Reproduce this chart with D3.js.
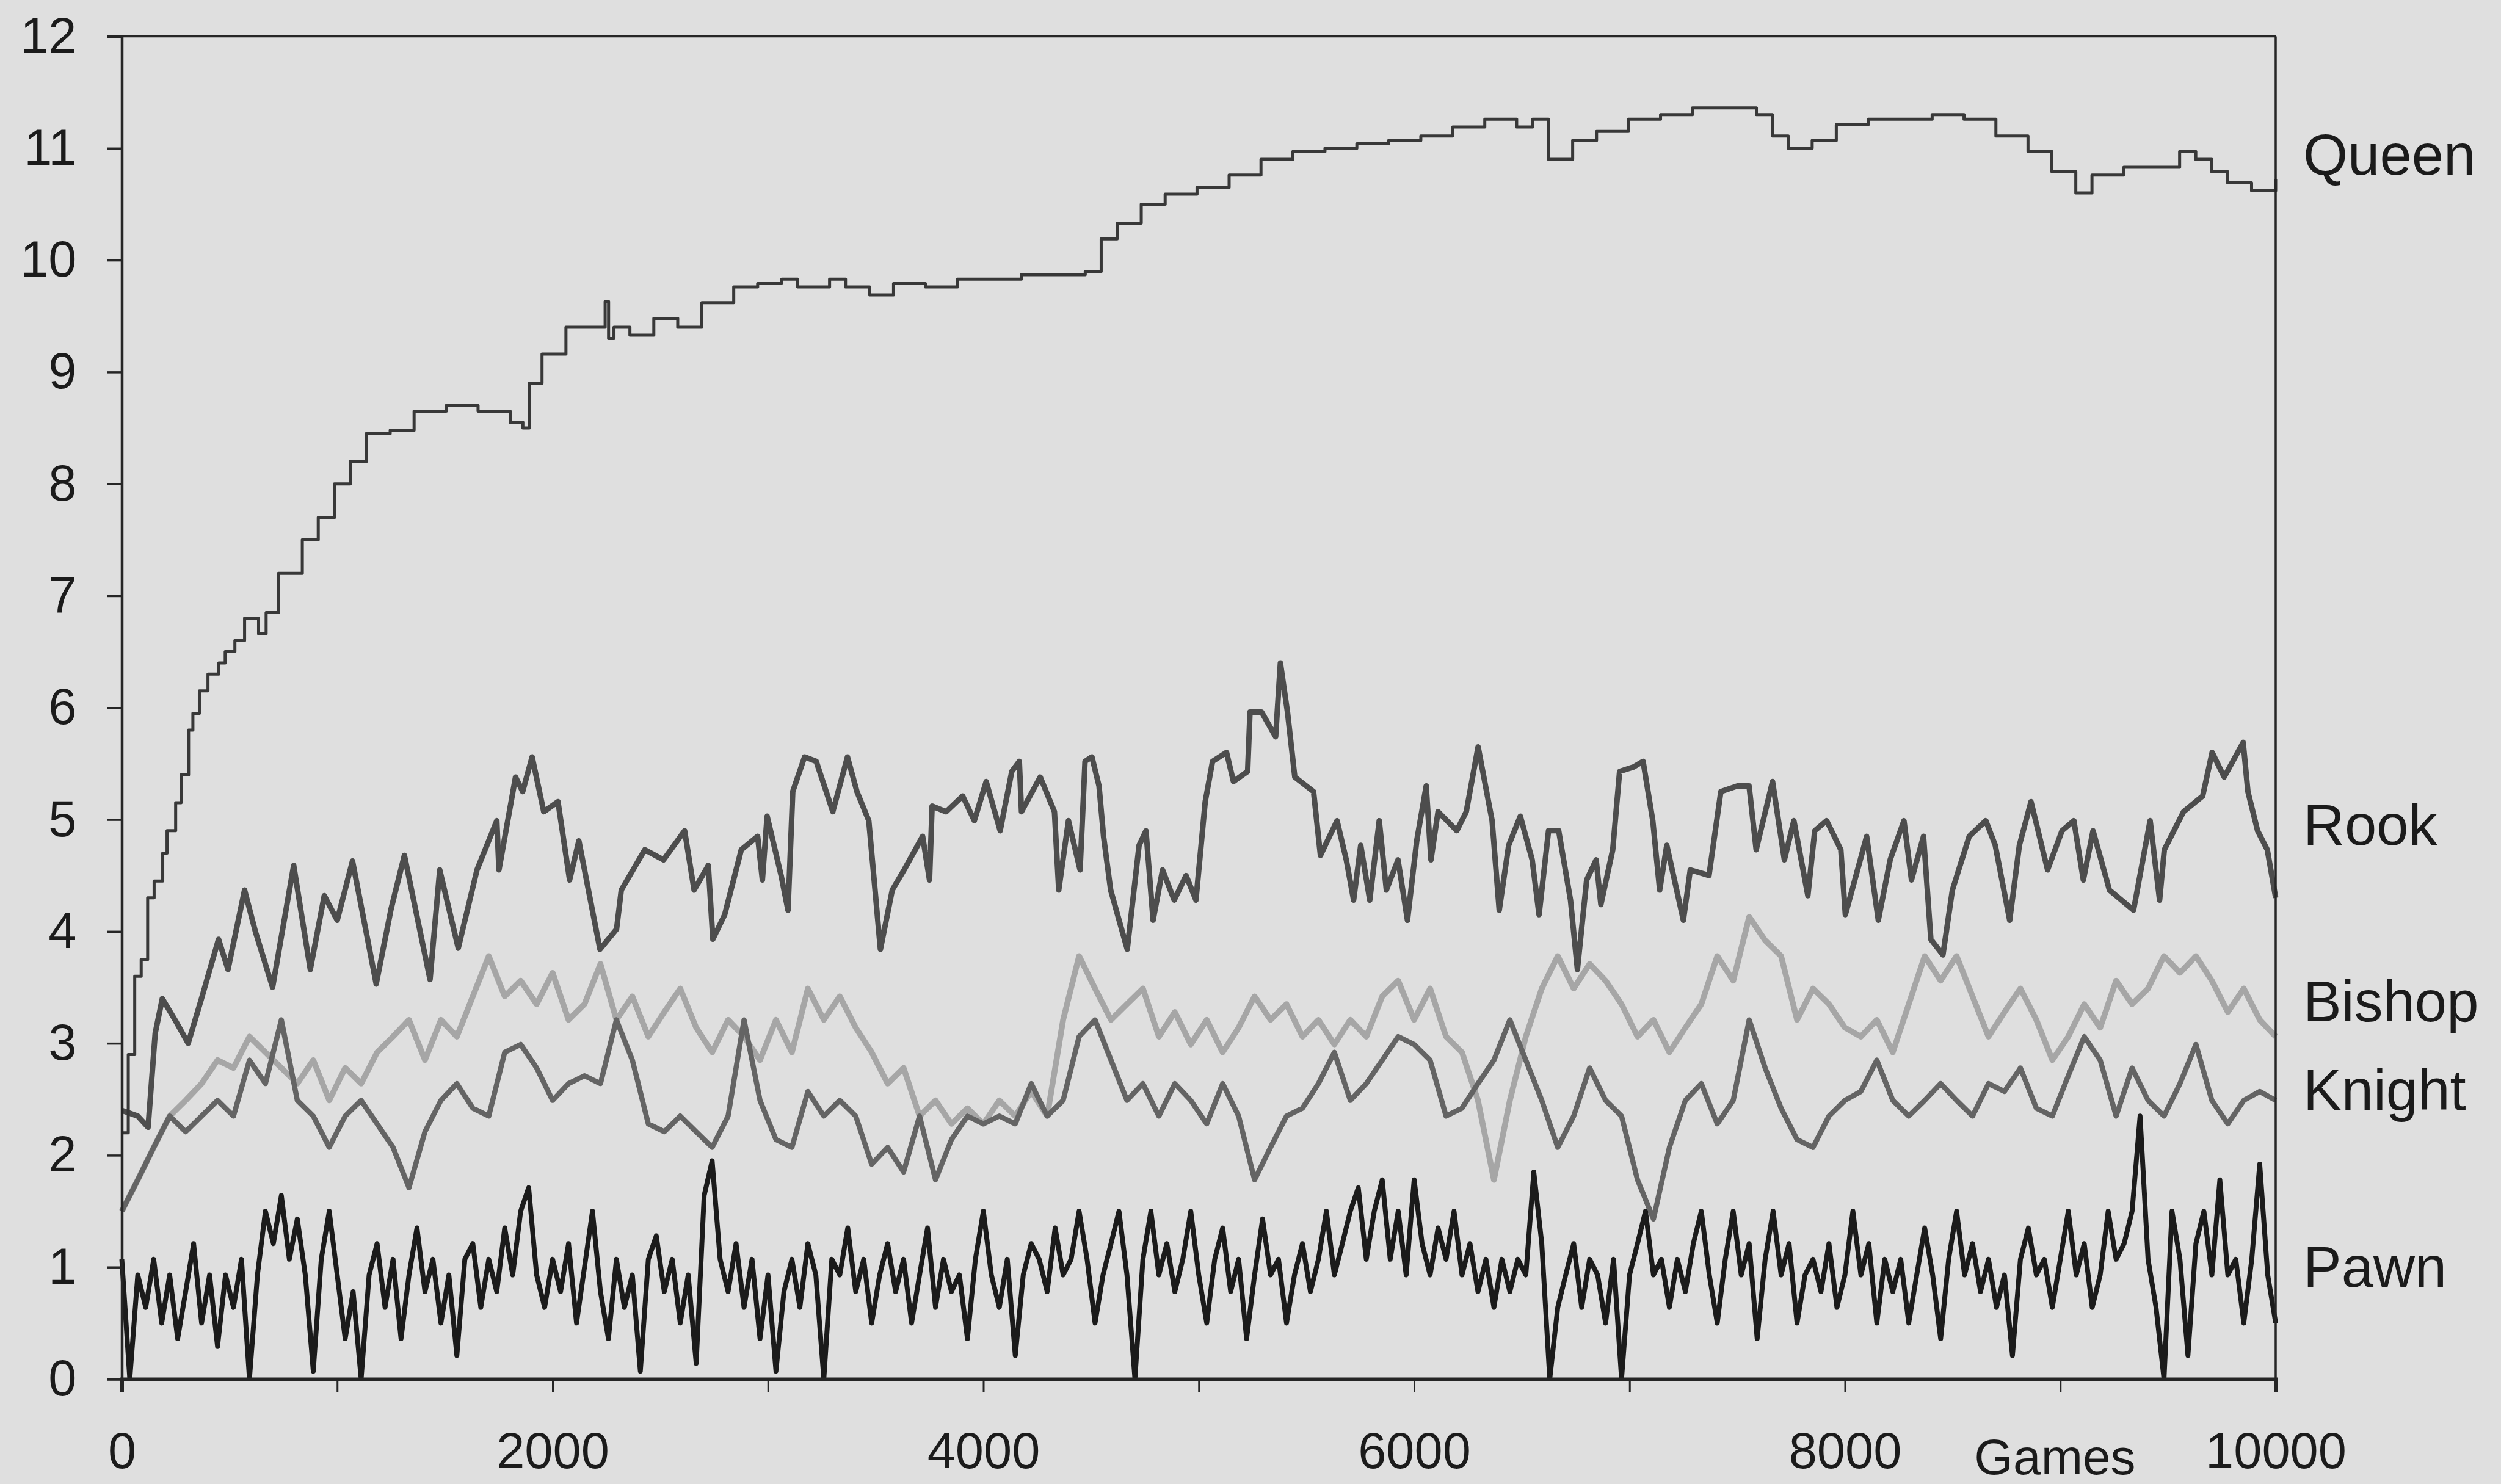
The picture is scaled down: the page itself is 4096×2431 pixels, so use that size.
<!DOCTYPE html>
<html>
<head>
<meta charset="utf-8">
<script src="https://cdn.jsdelivr.net/npm/d3@7"></script>
<style>
  html, body { margin: 0; padding: 0; background: #dfdfdf; overflow: hidden; }
  svg { display: block; }
  text { font-family: "Liberation Sans", Arial, Helvetica, sans-serif; fill: #1b1b1b; }
</style>
</head>
<body>
<svg id="chart" width="4096" height="2431"></svg>
<script>
// ---- data -------------------------------------------------------------
const gamesMax = 10000;
const yTickValues = d3.range(0, 13);
const xTickValues = d3.range(0, 10001, 1000);
const xLabelValues = [0, 2000, 4000, 6000, 8000, 10000];
const xAxisTitle = "Games";
const seriesNames = ["Queen", "Rook", "Bishop", "Knight", "Pawn"];

// Queen: [games, value]
const queenData = [[0,2.2],[30,2.9],[60,3.6],[90,3.75],[120,4.3],[150,4.45],[190,4.7],[210,4.9],[250,5.15],[275,5.4],[310,5.8],[330,5.95],[360,6.15],[400,6.3],[450,6.4],[480,6.5],[525,6.6],[570,6.8],[635,6.66],[670,6.85],[727,7.2],[838,7.5],[912,7.7],[987,8.0],[1061,8.2],[1135,8.45],[1246,8.48],[1357,8.65],[1506,8.7],[1654,8.65],[1803,8.55],[1862,8.5],[1892,8.9],[1951,9.16],[2062,9.4],[2173,9.4],[2244,9.63],[2260,9.3],[2285,9.4],[2359,9.33],[2470,9.48],[2581,9.4],[2693,9.62],[2841,9.76],[2952,9.79],[3064,9.83],[3138,9.76],[3286,9.83],[3360,9.76],[3472,9.69],[3583,9.79],[3731,9.76],[3880,9.83],[4028,9.83],[4176,9.87],[4325,9.87],[4473,9.9],[4547,10.19],[4621,10.33],[4733,10.5],[4844,10.59],[4992,10.65],[5141,10.76],[5289,10.9],[5437,10.97],[5586,11.0],[5734,11.04],[5882,11.07],[6031,11.11],[6179,11.19],[6328,11.26],[6476,11.19],[6550,11.26],[6624,10.9],[6736,11.07],[6847,11.15],[6995,11.26],[7144,11.3],[7292,11.36],[7440,11.36],[7589,11.3],[7663,11.11],[7737,11.0],[7848,11.07],[7960,11.21],[8108,11.26],[8256,11.26],[8405,11.3],[8553,11.26],[8701,11.11],[8850,10.97],[8961,10.79],[9072,10.6],[9147,10.76],[9295,10.83],[9443,10.83],[9554,10.97],[9629,10.9],[9703,10.79],[9777,10.69],[9888,10.62],[10000,10.72]];

// Rook: [games, value]
const rookData = [[0,2.4],[74,2.35],[122,2.25],[155,3.09],[188,3.4],[250,3.2],[308,3.0],[370,3.4],[449,3.93],[493,3.66],[570,4.37],[620,4.0],[700,3.5],[798,4.59],[875,3.66],[940,4.32],[1000,4.1],[1071,4.63],[1181,3.53],[1250,4.2],[1312,4.68],[1431,3.57],[1476,4.55],[1562,3.85],[1649,4.55],[1741,4.99],[1751,4.55],[1828,5.38],[1861,5.25],[1905,5.56],[1959,5.07],[2025,5.16],[2079,4.46],[2122,4.81],[2220,3.84],[2297,4.02],[2319,4.37],[2428,4.73],[2515,4.64],[2613,4.9],[2657,4.37],[2723,4.59],[2744,3.93],[2799,4.15],[2876,4.73],[2952,4.85],[2974,4.46],[2996,5.03],[3061,4.5],[3093,4.19],[3115,5.25],[3170,5.56],[3224,5.52],[3301,5.07],[3369,5.56],[3413,5.25],[3468,4.99],[3522,3.84],[3577,4.37],[3632,4.55],[3718,4.85],[3750,4.46],[3762,5.12],[3827,5.07],[3904,5.21],[3958,4.99],[4013,5.34],[4078,4.9],[4132,5.43],[4167,5.52],[4177,5.07],[4264,5.38],[4330,5.07],[4350,4.37],[4395,4.99],[4449,4.55],[4472,5.52],[4504,5.56],[4537,5.3],[4558,4.85],[4591,4.37],[4668,3.84],[4723,4.77],[4755,4.9],[4788,4.1],[4832,4.55],[4886,4.28],[4941,4.5],[4987,4.28],[5030,5.16],[5064,5.52],[5129,5.6],[5161,5.34],[5227,5.43],[5238,5.96],[5292,5.96],[5357,5.74],[5379,6.4],[5412,5.96],[5446,5.38],[5533,5.25],[5565,4.68],[5642,4.99],[5685,4.64],[5719,4.28],[5752,4.77],[5794,4.28],[5838,4.99],[5871,4.37],[5925,4.64],[5969,4.1],[6012,4.81],[6056,5.3],[6078,4.64],[6111,5.07],[6198,4.9],[6242,5.07],[6297,5.65],[6362,4.99],[6395,4.19],[6439,4.77],[6493,5.03],[6548,4.64],[6580,4.15],[6624,4.9],[6671,4.9],[6726,4.28],[6758,3.66],[6801,4.46],[6845,4.64],[6867,4.24],[6922,4.73],[6954,5.43],[7019,5.47],[7063,5.52],[7108,4.99],[7140,4.37],[7173,4.77],[7250,4.1],[7282,4.55],[7369,4.5],[7424,5.25],[7501,5.3],[7555,5.3],[7588,4.73],[7664,5.34],[7719,4.64],[7763,4.99],[7828,4.32],[7860,4.9],[7915,4.99],[7981,4.73],[8002,4.15],[8046,4.46],[8101,4.85],[8155,4.1],[8210,4.64],[8274,4.99],[8309,4.46],[8365,4.85],[8399,3.93],[8455,3.79],[8499,4.37],[8577,4.85],[8654,4.99],[8698,4.77],[8765,4.1],[8810,4.77],[8864,5.16],[8941,4.55],[9008,4.9],[9063,4.99],[9107,4.46],[9152,4.9],[9228,4.37],[9340,4.19],[9417,4.99],[9461,4.28],[9483,4.73],[9572,5.07],[9661,5.21],[9705,5.6],[9761,5.38],[9849,5.69],[9871,5.25],[9916,4.9],[9961,4.73],[10000,4.3]];

// Bishop and Knight: evenly spaced samples over 0..10000 games
const bishopValues = [1.5,1.78,2.07,2.35,2.49,2.64,2.85,2.78,3.06,2.92,
2.78,2.64,2.85,2.49,2.78,2.64,2.92,3.06,3.21,2.85,
3.21,3.06,3.42,3.78,3.42,3.56,3.35,3.63,3.21,3.35,
3.71,3.21,3.42,3.06,3.28,3.49,3.14,2.92,3.21,3.06,
2.85,3.21,2.92,3.49,3.21,3.42,3.14,2.92,2.64,2.78,
2.35,2.49,2.28,2.42,2.28,2.49,2.35,2.57,2.35,3.21,
3.78,3.49,3.21,3.35,3.49,3.06,3.28,2.99,3.21,2.92,
3.14,3.42,3.21,3.35,3.06,3.21,2.99,3.21,3.06,3.42,
3.56,3.21,3.49,3.06,2.92,2.49,1.78,2.49,3.06,3.49,
3.78,3.49,3.71,3.56,3.35,3.06,3.21,2.92,3.14,3.35,
3.78,3.56,4.13,3.92,3.78,3.21,3.49,3.35,3.14,3.06,
3.21,2.92,3.35,3.78,3.56,3.78,3.42,3.06,3.28,3.49,
3.21,2.85,3.06,3.35,3.14,3.56,3.35,3.49,3.78,3.63,
3.78,3.56,3.28,3.49,3.21,3.06];

const knightValues = [1.5,1.78,2.07,2.35,2.21,2.35,2.49,2.35,2.85,2.64,
3.21,2.49,2.35,2.07,2.35,2.49,2.28,2.07,1.71,2.21,
2.49,2.64,2.42,2.35,2.92,2.99,2.78,2.49,2.64,2.71,
2.64,3.21,2.85,2.28,2.21,2.35,2.21,2.07,2.35,3.21,
2.49,2.14,2.07,2.57,2.35,2.49,2.35,1.92,2.07,1.85,
2.35,1.78,2.14,2.35,2.28,2.35,2.28,2.64,2.35,2.49,
3.06,3.21,2.85,2.49,2.64,2.35,2.64,2.49,2.28,2.64,
2.35,1.78,2.07,2.35,2.42,2.64,2.92,2.49,2.64,2.85,
3.06,2.99,2.85,2.35,2.42,2.64,2.85,3.21,2.85,2.49,
2.07,2.35,2.78,2.49,2.35,1.78,1.43,2.07,2.49,2.64,
2.28,2.49,3.21,2.78,2.42,2.14,2.07,2.35,2.49,2.57,
2.85,2.49,2.35,2.49,2.64,2.49,2.35,2.64,2.57,2.78,
2.42,2.35,2.71,3.06,2.85,2.35,2.78,2.49,2.35,2.64,
2.99,2.49,2.28,2.49,2.57,2.49];

// Pawn: evenly spaced samples over 0..10000 games
const pawnValues = [1.07,0,
0.93,0.64,1.07,0.50,0.93,0.36,0.78,1.21,0.50,0.93,
0.29,0.93,0.64,1.07,0,0.93,1.50,1.21,1.64,1.07,
1.43,0.93,0.07,1.07,1.50,0.93,0.36,0.78,0,0.93,
1.21,0.64,1.07,0.36,0.93,1.35,0.78,1.07,0.50,0.93,
0.21,1.07,1.21,0.64,1.07,0.78,1.35,0.93,1.50,1.71,
0.93,0.64,1.07,0.78,1.21,0.50,1.00,1.50,0.78,0.36,
1.07,0.64,0.93,0.07,1.07,1.28,0.78,1.07,0.50,0.93,
0.14,1.64,1.95,1.07,0.78,1.21,0.64,1.07,0.36,0.93,
0.07,0.78,1.07,0.64,1.21,0.93,0,1.07,0.93,1.35,
0.78,1.07,0.50,0.93,1.21,0.78,1.07,0.50,0.93,1.35,
0.64,1.07,0.78,0.93,0.36,1.07,1.50,0.93,0.64,1.07,
0.21,0.93,1.21,1.07,0.78,1.35,0.93,1.07,1.50,1.07,
0.50,0.93,1.21,1.50,0.93,0,1.07,1.50,0.93,1.21,
0.78,1.07,1.50,0.93,0.50,1.07,1.35,0.78,1.07,0.36,
0.93,1.43,0.93,1.07,0.50,0.93,1.21,0.78,1.07,1.50,
0.93,1.21,1.50,1.71,1.07,1.50,1.78,1.07,1.50,0.93,
1.78,1.21,0.93,1.35,1.07,1.50,0.93,1.21,0.78,1.07,
0.64,1.07,0.78,1.07,0.93,1.85,1.21,0,0.64,0.93,
1.21,0.64,1.07,0.93,0.50,1.07,0,0.93,1.21,1.50,
0.93,1.07,0.64,1.07,0.78,1.21,1.50,0.93,0.50,1.07,
1.50,0.93,1.21,0.36,1.07,1.50,0.93,1.21,0.50,0.93,
1.07,0.78,1.21,0.64,0.93,1.50,0.93,1.21,0.50,1.07,
0.78,1.07,0.50,0.93,1.35,0.93,0.36,1.07,1.50,0.93,
1.21,0.78,1.07,0.64,0.93,0.21,1.07,1.35,0.93,1.07,
0.64,1.07,1.50,0.93,1.21,0.64,0.93,1.50,1.07,1.21,
1.50,2.35,1.07,0.64,0,1.50,1.07,0.21,1.21,1.50,
0.93,1.78,0.93,1.07,0.50,1.07,1.92,0.93,0.50];

// ---- layout & styles --------------------------------------------------
const W = 4096, H = 2431;
const plot = { left: 199.5, right: 3727, top: 59.5, bottom: 2259 };

const styles = {
  Queen:  { color: "#383838", width: 5,   labelAt: 10.95 },
  Rook:   { color: "#4d4d4d", width: 9,   labelAt: 4.96 },
  Bishop: { color: "#a6a6a6", width: 9.5, labelAt: 3.38 },
  Knight: { color: "#646464", width: 8.5, labelAt: 2.59 },
  Pawn:   { color: "#1b1b1b", width: 8,   labelAt: 1.01 }
};
const tickFont = 83, labelFont = 94, titleFont = 82;

const evenly = values => values.map((v, i) => [i * gamesMax / (values.length - 1), v]);
const series = {
  Queen: queenData,
  Rook: rookData,
  Bishop: evenly(bishopValues),
  Knight: evenly(knightValues),
  Pawn: evenly(pawnValues)
};

const x = d3.scaleLinear().domain([0, gamesMax]).range([plot.left, plot.right]);
const y = d3.scaleLinear().domain([0, 12]).range([plot.bottom, plot.top]);

const svg = d3.select("#chart");
svg.append("rect").attr("width", W).attr("height", H).attr("fill", "#dfdfdf");

// ---- series lines -------------------------------------------------------
const linear = d3.line().x(d => x(d[0])).y(d => y(d[1]));
const stepped = d3.line().x(d => x(d[0])).y(d => y(d[1])).curve(d3.curveStepAfter);

const drawOrder = ["Bishop", "Knight", "Rook", "Pawn", "Queen"];
const lines = svg.append("g").attr("class", "series");
drawOrder.forEach(name => {
  lines.append("path")
    .datum(series[name])
    .attr("d", name === "Queen" ? stepped : linear)
    .attr("fill", "none")
    .attr("stroke", styles[name].color)
    .attr("stroke-width", styles[name].width)
    .attr("stroke-linejoin", "round")
    .attr("stroke-linecap", "butt");
});

// ---- frame & axes ----------------------------------------------------------
const axisColor = "#262626";
svg.append("line").attr("x1", plot.left).attr("x2", plot.right)
  .attr("y1", plot.top).attr("y2", plot.top)
  .attr("stroke", axisColor).attr("stroke-width", 3.5);
svg.append("line").attr("x1", plot.right).attr("x2", plot.right)
  .attr("y1", plot.top).attr("y2", plot.bottom)
  .attr("stroke", axisColor).attr("stroke-width", 3.5);

const yAxis = d3.axisLeft(y).tickValues(yTickValues).tickSize(24).tickPadding(50)
  .tickFormat(d3.format("d"));
const gy = svg.append("g").attr("transform", `translate(${plot.left},0)`).call(yAxis);
gy.select(".domain").attr("stroke", axisColor).attr("stroke-width", 4.5);
gy.selectAll(".tick line").attr("stroke", axisColor).attr("stroke-width", 3.5);
gy.selectAll(".tick text").attr("font-size", tickFont).attr("fill", "#1b1b1b")
  .attr("font-family", "Liberation Sans, Arial, sans-serif");

const xAxis = d3.axisBottom(x).tickValues(xTickValues).tickSize(21).tickPadding(66)
  .tickFormat(d => xLabelValues.includes(d) ? String(d) : "");
const gx = svg.append("g").attr("transform", `translate(0,${plot.bottom})`).call(xAxis);
gx.select(".domain").attr("stroke", axisColor).attr("stroke-width", 6);
gx.selectAll(".tick line").attr("stroke", axisColor).attr("stroke-width", 3);
gx.selectAll(".tick text").attr("font-size", tickFont).attr("fill", "#1b1b1b")
  .attr("font-family", "Liberation Sans, Arial, sans-serif");

svg.append("text")
  .attr("x", x(8975)).attr("y", 2415)
  .attr("text-anchor", "middle")
  .attr("font-size", titleFont)
  .text(xAxisTitle);

// ---- series labels ------------------------------------------------------------
svg.append("g").selectAll("text")
  .data(seriesNames)
  .join("text")
  .attr("x", 3772)
  .attr("y", d => y(styles[d].labelAt) + 0.358 * labelFont)
  .attr("font-size", labelFont)
  .text(d => d);
</script>
</body>
</html>
